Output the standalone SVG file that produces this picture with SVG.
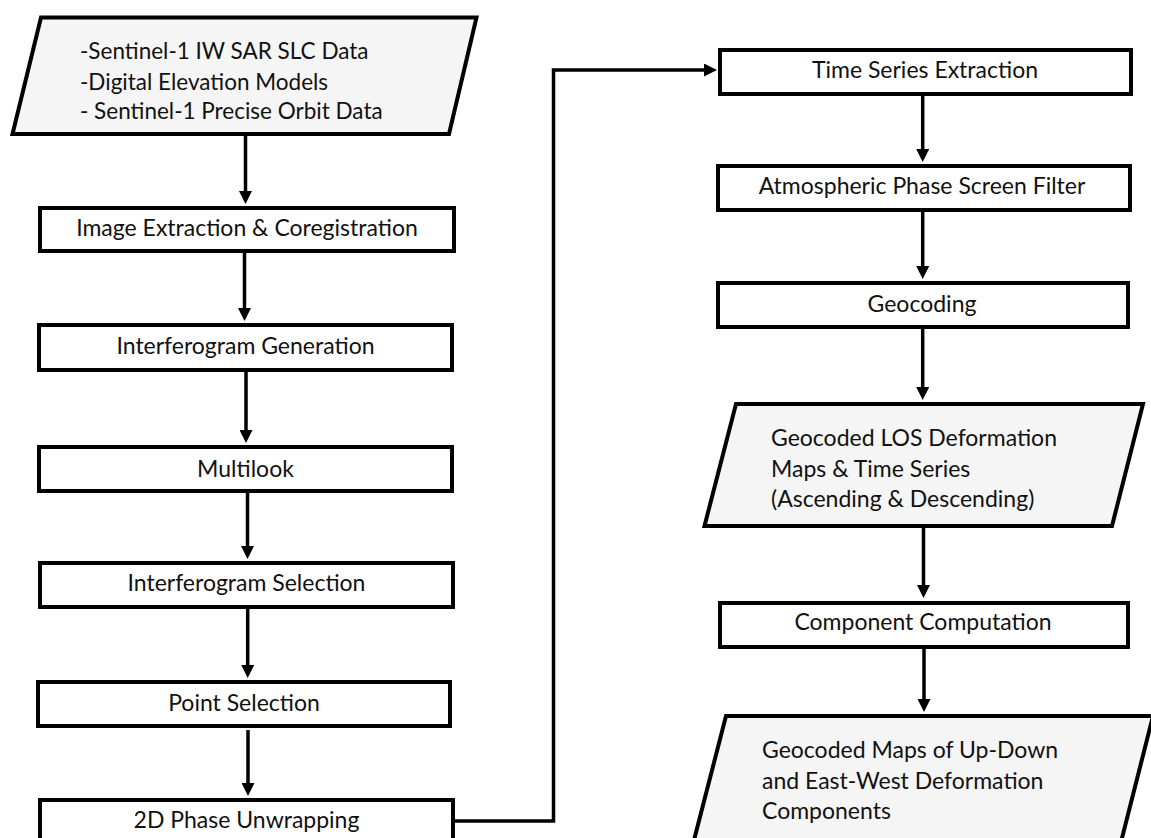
<svg xmlns="http://www.w3.org/2000/svg" width="1151" height="838" viewBox="0 0 1151 838">
  <style>
    .box { fill: #ffffff; stroke: #000000; stroke-width: 4; }
    .io { fill: #f6f5f5; stroke: #000000; stroke-width: 4; stroke-linejoin: miter; }
    .lbl { font-family: Lato, "Open Sans", "Liberation Sans", sans-serif; font-size: 23px; fill: #111111; }
    .top { font-size: 22.5px; }
    .c { text-anchor: middle; }
    .conn { fill: none; stroke: #000000; stroke-width: 3.5; }
  </style>
  <defs>
    <marker id="arrow" markerUnits="userSpaceOnUse" viewBox="0 0 13 13" markerWidth="13" markerHeight="13" refX="9" refY="6.5" orient="auto">
      <path d="M0,0 L13,6.5 L0,13 z" fill="#000000"/>
    </marker>
  </defs>
  <rect width="1151" height="838" fill="#ffffff"/>

  <g id="connectors">
    <path class="conn" d="M245.5,135 V200" marker-end="url(#arrow)"/>
    <path class="conn" d="M244.5,253 V317" marker-end="url(#arrow)"/>
    <path class="conn" d="M246,372 V439" marker-end="url(#arrow)"/>
    <path class="conn" d="M247.5,493 V555" marker-end="url(#arrow)"/>
    <path class="conn" d="M247.7,609 V674" marker-end="url(#arrow)"/>
    <path class="conn" d="M248,730 V792" marker-end="url(#arrow)"/>
    <path class="conn" d="M455,821 H553.5 V70 H713" marker-end="url(#arrow)"/>
    <path class="conn" d="M922.7,96 V158" marker-end="url(#arrow)"/>
    <path class="conn" d="M922.7,212 V275" marker-end="url(#arrow)"/>
    <path class="conn" d="M922.7,329 V396" marker-end="url(#arrow)"/>
    <path class="conn" d="M923.5,528 V594" marker-end="url(#arrow)"/>
    <path class="conn" d="M924,649 V708" marker-end="url(#arrow)"/>
  </g>

  <g id="input-data">
    <polygon class="io" points="41,17.5 476.5,17.5 449,134 12.5,134"/>
    <text class="lbl top" x="80" y="59">-Sentinel-1 IW SAR SLC Data</text>
    <text class="lbl top" x="80" y="90">-Digital Elevation Models</text>
    <text class="lbl top" x="80" y="119">- Sentinel-1 Precise Orbit Data</text>
  </g>

  <g id="image-extraction">
    <rect class="box" x="40" y="208" width="414" height="43"/>
    <text class="lbl c" x="247" y="236">Image Extraction &amp; Coregistration</text>
  </g>

  <g id="interferogram-generation">
    <rect class="box" x="39" y="325" width="413" height="45"/>
    <text class="lbl c" x="245.5" y="354">Interferogram Generation</text>
  </g>

  <g id="multilook">
    <rect class="box" x="39" y="447" width="413" height="44"/>
    <text class="lbl c" x="245.5" y="477">Multilook</text>
  </g>

  <g id="interferogram-selection">
    <rect class="box" x="40" y="563" width="413" height="44"/>
    <text class="lbl c" x="246.5" y="591">Interferogram Selection</text>
  </g>

  <g id="point-selection">
    <rect class="box" x="38" y="682" width="412" height="44"/>
    <text class="lbl c" x="244" y="711">Point Selection</text>
  </g>

  <g id="phase-unwrapping">
    <rect class="box" x="40" y="800" width="413" height="45"/>
    <text class="lbl c" x="246.5" y="828">2D Phase Unwrapping</text>
  </g>

  <g id="time-series-extraction">
    <rect class="box" x="720" y="50" width="411" height="44"/>
    <text class="lbl c" x="925" y="78">Time Series Extraction</text>
  </g>

  <g id="aps-filter">
    <rect class="box" x="718" y="166" width="412" height="44"/>
    <text class="lbl c" x="922" y="194">Atmospheric Phase Screen Filter</text>
  </g>

  <g id="geocoding">
    <rect class="box" x="718" y="283" width="410" height="44"/>
    <text class="lbl c" x="922" y="312">Geocoding</text>
  </g>

  <g id="los-maps">
    <polygon class="io" points="736,404 1143,404 1112,526 704.5,526"/>
    <text class="lbl" x="771" y="446">Geocoded LOS Deformation</text>
    <text class="lbl" x="771" y="477">Maps &amp; Time Series</text>
    <text class="lbl" x="771" y="507">(Ascending &amp; Descending)</text>
  </g>

  <g id="component-computation">
    <rect class="box" x="720" y="603" width="408" height="44"/>
    <text class="lbl c" x="923" y="630">Component Computation</text>
  </g>

  <g id="component-maps">
    <polygon class="io" points="726,716 1153,716 1120.5,844 693,844"/>
    <text class="lbl" x="762" y="758">Geocoded Maps of Up-Down</text>
    <text class="lbl" x="762" y="789">and East-West Deformation</text>
    <text class="lbl" x="762" y="819">Components</text>
  </g>
</svg>
